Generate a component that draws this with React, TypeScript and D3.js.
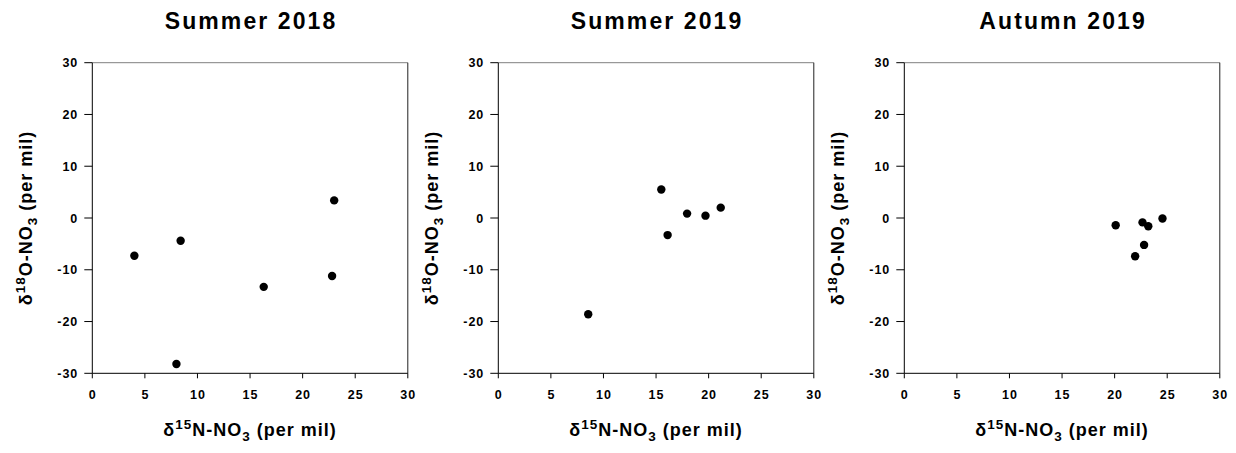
import React from "react";
import * as d3 from "d3";

const panelTitles = ["Summer 2018", "Summer 2019", "Autumn 2019"];

const summer2018N = [4.0, 8.4, 8.0, 16.3, 22.8, 23.0];
const summer2018O = [-7.3, -4.4, -28.2, -13.3, -11.2, 3.4];

const summer2019N = [8.55, 15.5, 16.1, 17.95, 19.7, 21.15];
const summer2019O = [-18.6, 5.5, -3.3, 0.85, 0.45, 2.0];

const autumn2019N = [20.1, 22.65, 23.2, 22.8, 21.95, 24.55];
const autumn2019O = [-1.4, -0.85, -1.6, -5.2, -7.4, -0.1];

const xTicks = [0, 5, 10, 15, 20, 25, 30];
const yTicks = [-30, -20, -10, 0, 10, 20, 30];

const seriesN = [summer2018N, summer2019N, autumn2019N];
const seriesO = [summer2018O, summer2019O, autumn2019O];

const panelLefts = [92.3, 498.3, 904.3];
const plotW = 315.5;
const plotTop = 62.7;
const plotBottom = 373.3;

const FONT = "'Liberation Sans', Arial, Helvetica, sans-serif";

function Panel({ idx }: { idx: number }) {
  const left = panelLefts[idx];
  const right = left + plotW;
  const x = d3.scaleLinear().domain([0, 30]).range([left, right]);
  const y = d3.scaleLinear().domain([-30, 30]).range([plotBottom, plotTop]);
  const cx = (left + right) / 2;
  const cy = (plotTop + plotBottom) / 2;
  const pts = seriesN[idx].map((n, i) => ({ n, o: seriesO[idx][i] }));
  return (
    <g>
      <text
        x={cx + 1}
        y={28.5}
        textAnchor="middle"
        fontFamily={FONT}
        fontWeight="bold"
        fontSize={23}
        letterSpacing={2.1}
        fill="#000"
      >
        {panelTitles[idx]}
      </text>
      {/* frame */}
      <line x1={left} x2={right} y1={plotTop} y2={plotTop} stroke="#808080" strokeWidth={1} />
      <line x1={right} x2={right} y1={plotTop} y2={plotBottom} stroke="#222" strokeWidth={1} />
      <line x1={left} x2={right} y1={plotBottom} y2={plotBottom} stroke="#000" strokeWidth={1} />
      <line x1={left} x2={left} y1={plotTop} y2={plotBottom} stroke="#000" strokeWidth={1} />
      {/* x ticks */}
      {xTicks.map((t) => (
        <g key={"x" + t}>
          <line x1={x(t)} x2={x(t)} y1={plotBottom} y2={plotBottom + 5} stroke="#000" strokeWidth={1} />
          <text
            x={x(t) + 0.5}
            y={plotBottom + 26}
            textAnchor="middle"
            fontFamily={FONT}
            fontWeight="bold"
            fontSize={12.5}
            letterSpacing={1}
          >
            {t}
          </text>
        </g>
      ))}
      {/* y ticks */}
      {yTicks.map((t) => (
        <g key={"y" + t}>
          <line x1={left - 8} x2={left} y1={y(t)} y2={y(t)} stroke="#000" strokeWidth={1} />
          <text
            x={left - 14}
            y={y(t) + 4.5}
            textAnchor="end"
            fontFamily={FONT}
            fontWeight="bold"
            fontSize={12.5}
            letterSpacing={1}
          >
            {t}
          </text>
        </g>
      ))}
      {/* points */}
      {pts.map((p, i) => (
        <circle key={i} cx={x(p.n)} cy={y(p.o)} r={4.2} fill="#000" />
      ))}
      {/* x label */}
      <text
        x={cx}
        y={436}
        textAnchor="middle"
        fontFamily={FONT}
        fontWeight="bold"
        fontSize={18}
        letterSpacing={1}
      >
        δ
        <tspan fontSize={13.5} dy={-7}>15</tspan>
        <tspan dy={7}>N-NO</tspan>
        <tspan fontSize={13.5} dy={5}>3</tspan>
        <tspan dy={-5}> (per mil)</tspan>
      </text>
      {/* y label */}
      <text
        transform={`translate(${left - 60},${cy}) rotate(-90)`}
        textAnchor="middle"
        fontFamily={FONT}
        fontWeight="bold"
        fontSize={18}
        letterSpacing={1}
      >
        δ
        <tspan fontSize={13.5} dy={-7}>18</tspan>
        <tspan dy={7}>O-NO</tspan>
        <tspan fontSize={13.5} dy={5}>3</tspan>
        <tspan dy={-5}> (per mil)</tspan>
      </text>
    </g>
  );
}

export default function App() {
  return (
    <svg
      width={1236}
      height={453}
      style={{ position: "absolute", left: 0, top: 0, background: "#fff" }}
    >
      <rect x={0} y={0} width={1236} height={453} fill="#fff" />
      {[0, 1, 2].map((i) => (
        <Panel key={i} idx={i} />
      ))}
    </svg>
  );
}
